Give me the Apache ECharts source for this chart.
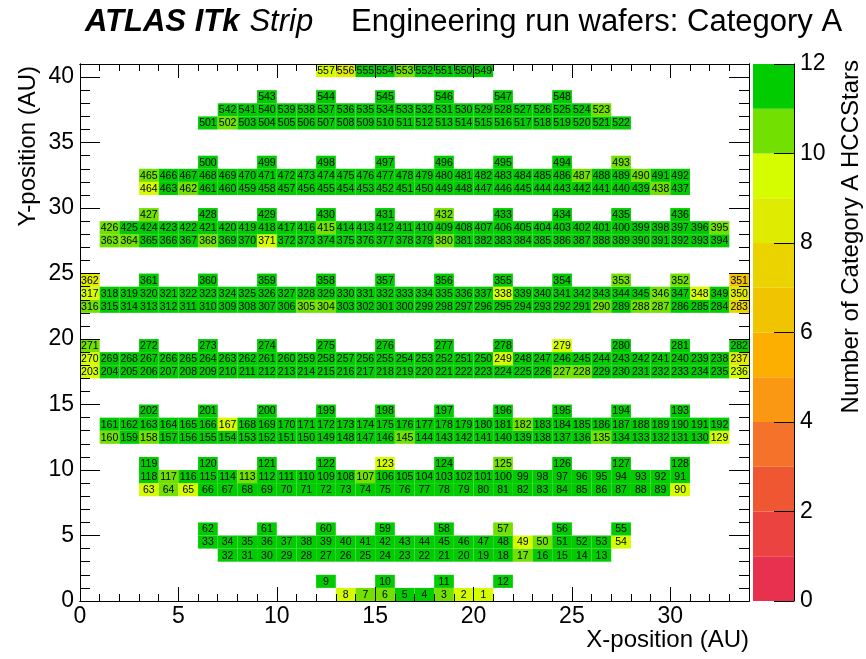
<!DOCTYPE html>
<html><head><meta charset="utf-8">
<script src="https://cdn.jsdelivr.net/npm/echarts@6/dist/echarts.min.js"></script>
<style>html,body{margin:0;padding:0;background:#fff}#c{width:866px;height:659px}</style>
</head><body><div id="c"></div>
<script>
// ---- data: wafer rows (bottom edge y, first cell x, x step, first label, label direction)
const rowY     = [0, 1, 3, 4, 5, 8, 9, 10, 12, 13, 14, 17, 18, 19, 22, 23, 24, 27, 28, 29, 31, 32, 33, 36, 37, 38, 40];
const rowX0    = [13, 12, 7, 6, 6, 3, 3, 3, 1, 1, 3, 0, 0, 0, 0, 0, 0, 1, 1, 3, 3, 3, 6, 6, 7, 9, 12];
const rowStep  = [1, 3, 1, 1, 3, 1, 1, 3, 1, 1, 3, 1, 1, 3, 1, 1, 3, 1, 1, 3, 1, 1, 3, 1, 1, 3, 1];
const rowFirst = [8, 9, 32, 33, 62, 63, 118, 119, 160, 161, 202, 203, 270, 271, 316, 317, 362, 363, 426, 427, 464, 465, 500, 501, 542, 543, 557];
const rowDir   = [-1, 1, -1, 1, -1, 1, -1, 1, -1, 1, -1, 1, -1, 1, -1, 1, -1, 1, -1, 1, -1, 1, -1, 1, -1, 1, -1];
// number of Category A HCCStars per wafer, one hex digit per cell in row order (c = 12, a = 10)
const rowVals = [
  '9aacca99',
  'cccc',
  'ccccc' + 'ccccc' + 'ccccc' + 'a' + 'cccc',
  'ccccc' + 'ccccc' + 'ccccc' + 'c' + '9a' + 'ccc' + '9',
  'cccccacc',
  '9a9' + 'ccccc' + 'ccccc' + 'ccccc' + 'ccccc' + 'cccc' + '9',
  'ca' + 'ccc' + 'a' + 'ccccc' + 'a' + 'ccccc' + 'ccccc' + 'ccccc' + 'c',
  'cccc9caccc',
  'aca' + 'ccccc' + 'ccccc' + 'cc' + 'a' + 'ccccc' + 'cccc' + 'a' + 'ccccc' + '9',
  'cccccc' + '9' + 'ccccc' + 'ccccc' + 'cccc' + 'a' + 'ccccc' + 'ccccc',
  'cccccccccc',
  '9' + 'ccccc' + 'ccccc' + 'ccccc' + 'ccccc' + 'ccc' + 'aa' + 'ccccc' + 'cc' + '9',
  '9' + 'ccccc' + 'ccccc' + 'ccccc' + 'ccccc' + '9' + 'ccccc' + 'ccccc' + 'c' + '8',
  'a' + 'ccccccc' + '9' + 'ccc',
  'a' + 'ccccc' + 'ccccc' + 'aa' + 'ccccc' + 'ccccc' + 'ccc' + 'a' + 'c' + 'aa' + 'ccc' + '7',
  '9' + 'ccccc' + 'ccccc' + 'ccccc' + 'ccccc' + '9' + 'ccccc' + 'cc' + 'a' + 'c' + '9' + 'c' + '8',
  '8' + 'cccccccc' + 'aa' + '6',
  'aa' + 'ccc' + 'a' + 'cc' + '9' + 'cccccccc' + 'a' + 'ccccc' + 'ccccc' + 'cccc',
  'a' + 'ccccc' + 'ccccc' + 'a' + 'ccccc' + 'ccccc' + 'ccccc' + 'cccc' + 'a',
  'a' + 'cccc' + 'a' + 'cccc',
  '9' + 'c' + 'a' + 'ccccc' + 'ccccc' + 'ccccc' + 'ccccc' + 'ccc' + 'a' + 'c',
  'a' + 'ccccc' + 'ccccc' + 'ccccc' + 'ccccc' + 'c' + 'a' + 'cc' + 'a' + 'cc',
  'ccccccc' + 'a',
  'c' + 'a' + 'ccccc' + 'ccccc' + 'ccccc' + 'ccccc',
  'ccccc' + 'ccccc' + 'ccccc' + 'cccc' + 'a',
  'cccccc',
  '98' + 'cc' + 'a' + 'cccc'
];
const xMajorTicks = [0, 5, 10, 15, 20, 25, 30];
const yMajorTicks = [0, 5, 10, 15, 20, 25, 30, 35, 40];
const colorbarLevels = [0, 1, 2, 3, 4, 5, 6, 7, 8, 9, 10, 11];
const levelColors = ['#e8304f', '#eb4440', '#ef5732', '#f5722a', '#fb9813', '#fdaf00',
                     '#f0c400', '#ebd300', '#dfeb00', '#d6fd00', '#72e000', '#00cc00'];

const cells = [];
for (let r = 0; r < rowY.length; r++) {
  const vals = rowVals[r];
  for (let i = 0; i < vals.length; i++) {
    cells.push([rowX0[r] + i * rowStep[r], rowY[r], parseInt(vals[i], 16), rowFirst[r] + i * rowDir[r]]);
  }
}
const barData = colorbarLevels.map(v => [0, v, v]);

const FONT = '"Liberation Sans", Arial, sans-serif';
const pieces = colorbarLevels.map(v => v === 11 ? { gte: 11, lte: 12, color: levelColors[v] } : { gte: v, lt: v + 1, color: levelColors[v] });

function lineAxis(extra) {
  return Object.assign({
    type: 'value', gridIndex: 0, z: 10,
    axisLine: { show: true, onZero: false, lineStyle: { color: '#000', width: 1 } },
    splitLine: { show: false },
    axisLabel: { show: false }
  }, extra);
}
const tickStyle = { color: '#000', width: 1 };

const option = {
  animation: false,
  backgroundColor: '#fff',
  textStyle: { fontFamily: FONT },
  title: [
    { text: '{a|ATLAS ITk} {b|Strip}', left: 80, top: 2,
      textStyle: { rich: {
        a: { fontFamily: FONT, fontSize: 31, fontWeight: 'bold', fontStyle: 'italic', color: '#000' },
        b: { fontFamily: FONT, fontSize: 31, fontWeight: 'normal', fontStyle: 'italic', color: '#000', padding: [0, 0, 0, 5] } } } },
    { text: 'Engineering run wafers: Category A', left: 346, top: 2,
      textStyle: { fontFamily: FONT, fontSize: 31, fontWeight: 'normal', color: '#000' } }
  ],
  grid: [
    { left: 80, top: 64, width: 669, height: 537 },
    { left: 753, top: 64, width: 41, height: 537 }
  ],
  xAxis: [
    lineAxis({ position: 'bottom', min: 0, max: 34,
      axisTick: { inside: true, length: 14, customValues: xMajorTicks, lineStyle: tickStyle },
      axisLabel: { show: true, customValues: xMajorTicks, fontSize: 23, color: '#000', margin: 4, fontFamily: FONT } }),
    lineAxis({ position: 'bottom', min: 0, max: 34, interval: 1,
      axisTick: { inside: true, length: 7, lineStyle: tickStyle } }),
    lineAxis({ position: 'top', min: 0, max: 34,
      axisTick: { inside: true, length: 14, customValues: xMajorTicks, lineStyle: tickStyle } }),
    lineAxis({ position: 'top', min: 0, max: 34, interval: 1,
      axisTick: { inside: true, length: 7, lineStyle: tickStyle } }),
    { type: 'value', gridIndex: 1, min: 0, max: 1, show: false }
  ],
  yAxis: [
    lineAxis({ position: 'left', min: 0, max: 41,
      axisTick: { inside: true, length: 20, customValues: yMajorTicks, lineStyle: tickStyle },
      axisLabel: { show: true, customValues: yMajorTicks, fontSize: 23, color: '#000', margin: 6, fontFamily: FONT } }),
    lineAxis({ position: 'left', min: 0, max: 41, interval: 1,
      axisTick: { inside: true, length: 10, lineStyle: tickStyle } }),
    lineAxis({ position: 'right', min: 0, max: 41,
      axisTick: { inside: true, length: 20, customValues: yMajorTicks, lineStyle: tickStyle } }),
    lineAxis({ position: 'right', min: 0, max: 41, interval: 1,
      axisTick: { inside: true, length: 10, lineStyle: tickStyle } }),
    { type: 'value', gridIndex: 1, position: 'right', min: 0, max: 12, interval: 2, z: 10,
      axisLine: { show: true, onZero: false, lineStyle: { color: '#000', width: 1 } },
      axisTick: { show: true, inside: true, length: 20, lineStyle: tickStyle },
      splitLine: { show: false },
      axisLabel: { fontSize: 23, color: '#000', margin: 6, fontFamily: FONT } }
  ],
  visualMap: {
    type: 'piecewise', show: false, dimension: 2, seriesIndex: [0, 1], pieces: pieces
  },
  graphic: [
    { type: 'text', x: 749, y: 628, z: 20,
      style: { text: 'X-position (AU)', font: '24px ' + FONT, fill: '#000', align: 'right', verticalAlign: 'top' } },
    { type: 'text', x: 28, y: 66, rotation: Math.PI / 2, z: 20,
      style: { text: 'Y-position (AU)', font: '24px ' + FONT, fill: '#000', align: 'right', verticalAlign: 'middle' } },
    { type: 'text', x: 851, y: 60, rotation: Math.PI / 2, z: 20,
      style: { text: 'Number of Category A HCCStars', font: '24px ' + FONT, fill: '#000', align: 'right', verticalAlign: 'middle' } }
  ],
  series: [
    {
      type: 'custom', xAxisIndex: 0, yAxisIndex: 0, z: 2,
      data: cells,
      renderItem: function (params, api) {
        const x = api.value(0), y = api.value(1);
        const p0 = api.coord([x, y + 1]);
        const p1 = api.coord([x + 1, y]);
        return {
          type: 'group',
          children: [
            { type: 'rect', shape: { x: p0[0], y: p0[1], width: p1[0] - p0[0], height: p1[1] - p0[1] },
              style: { fill: api.visual('color') } },
            { type: 'text', x: (p0[0] + p1[0]) / 2, y: (p0[1] + p1[1]) / 2 + 0.5,
              style: { text: String(api.value(3)), fill: '#000', font: '10.5px ' + FONT, align: 'center', verticalAlign: 'middle' } }
          ]
        };
      }
    },
    {
      type: 'custom', xAxisIndex: 4, yAxisIndex: 4, z: 2,
      data: barData,
      renderItem: function (params, api) {
        const v = api.value(1);
        const p0 = api.coord([0, v + 1]);
        const p1 = api.coord([1, v]);
        return { type: 'rect', shape: { x: p0[0], y: p0[1], width: p1[0] - p0[0], height: p1[1] - p0[1] },
                 style: { fill: api.visual('color') } };
      }
    }
  ]
};
const chart = echarts.init(document.getElementById('c'), null, { renderer: 'canvas' });
chart.setOption(option);
</script>
</body></html>
